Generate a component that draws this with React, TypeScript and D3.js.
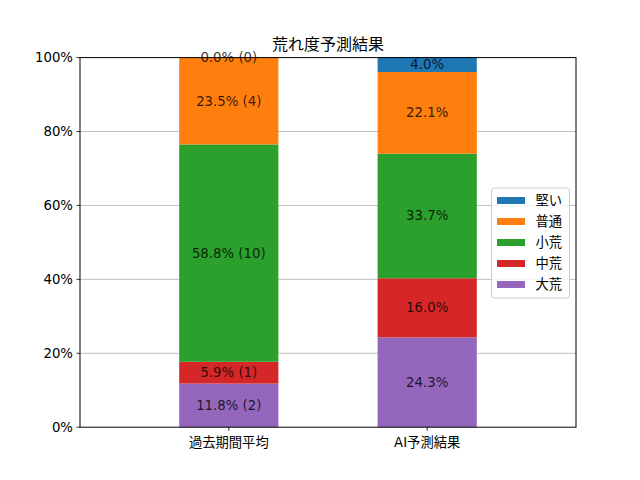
import React from "react";
import * as d3 from "d3";

const categories = ["過去期間平均", "AI予測結果"];
const seriesNames = ["大荒", "中荒", "小荒", "普通", "堅い"];
const seriesColors = ["#9467bd", "#d62728", "#2ca02c", "#ff7f0e", "#1f77b4"];
const pastValues = [11.8, 5.9, 58.8, 23.5, 0.0];
const pastCounts = [2, 1, 10, 4, 0];
const aiValues = [24.3, 16.0, 33.7, 22.1, 4.0];
const yTicks = [0, 20, 40, 60, 80, 100];
const title = "荒れ度予測結果";

const W = 640, H = 480;
const M = { left: 80, right: 576, top: 57.6, bottom: 427.2 };
const FONT = "'DejaVu Sans', 'Noto Sans CJK JP', sans-serif";

export default function App() {
  const x = d3.scaleLinear().domain([-0.75, 1.75]).range([M.left, M.right]);
  const y = d3.scaleLinear().domain([0, 100]).range([M.bottom, M.top]);
  const bw = x(0.5) - x(0);

  const rows = [
    { values: pastValues, labels: pastValues.map((v, i) => `${v.toFixed(1)}% (${pastCounts[i]})`) },
    { values: aiValues, labels: aiValues.map((v) => `${v.toFixed(1)}%`) },
  ];

  const bars: React.ReactNode[] = [];
  const texts: React.ReactNode[] = [];
  rows.forEach((row, ci) => {
    let acc = 0;
    row.values.forEach((v, si) => {
      const y0 = acc, y1 = acc + v;
      acc = y1;
      const cx = x(ci);
      bars.push(
        <rect key={`b${ci}-${si}`} x={cx - bw / 2} y={y(y1)} width={bw} height={Math.max(0, y(y0) - y(y1))} fill={seriesColors[si]} />
      );
      texts.push(
        <text key={`t${ci}-${si}`} x={cx} y={y((y0 + y1) / 2)} textAnchor="middle" dominantBaseline="central" fontSize={13.3} fill="#000" fillOpacity={0.8}>
          {row.labels[si]}
        </text>
      );
    });
  });

  const legendItems = seriesNames.map((n, i) => ({ n, c: seriesColors[i] })).reverse();
  const lgX = 491.5, lgY = 188, lgW = 78, lgH = 110;

  return (
    <svg width={W} height={H} style={{ display: "block", margin: 0, position: "absolute", left: 0, top: 0 }} fontFamily={FONT}>
      <rect width={W} height={H} fill="#fff" />
      {yTicks.slice(1, -1).map((t) => (
        <line key={`g${t}`} x1={M.left} x2={M.right} y1={y(t)} y2={y(t)} stroke="#b0b0b0" strokeWidth={0.8} />
      ))}
      {bars}
      <rect x={M.left} y={M.top} width={M.right - M.left} height={M.bottom - M.top} fill="none" stroke="#000" strokeWidth={1} />
      {yTicks.map((t) => (
        <g key={`yt${t}`}>
          <line x1={M.left - 3.5} x2={M.left} y1={y(t)} y2={y(t)} stroke="#000" strokeWidth={0.8} />
          <text x={M.left - 7} y={y(t)} textAnchor="end" dominantBaseline="central" fontSize={13.3} fill="#000">{`${t}%`}</text>
        </g>
      ))}
      {categories.map((c, i) => (
        <g key={`xt${i}`}>
          <line x1={x(i)} x2={x(i)} y1={M.bottom} y2={M.bottom + 3.5} stroke="#000" strokeWidth={0.8} />
          <text x={x(i)} y={M.bottom + 15} textAnchor="middle" dominantBaseline="central" fontSize={13.3} fill="#000">{c}</text>
        </g>
      ))}
      {texts}
      <text x={(M.left + M.right) / 2} y={44} textAnchor="middle" dominantBaseline="central" fontSize={16} fill="#000">{title}</text>
      <rect x={lgX} y={lgY} width={lgW} height={lgH} rx={3} fill="#fff" fillOpacity={0.8} stroke="#cccccc" strokeWidth={1} />
      {legendItems.map((it, i) => {
        const cy = lgY + 12.5 + i * 21;
        return (
          <g key={`lg${i}`}>
            <rect x={lgX + 5.5} y={cy - 3.5} width={28} height={7} fill={it.c} />
            <text x={lgX + 44} y={cy} dominantBaseline="central" fontSize={13.3} fill="#000">{it.n}</text>
          </g>
        );
      })}
    </svg>
  );
}
